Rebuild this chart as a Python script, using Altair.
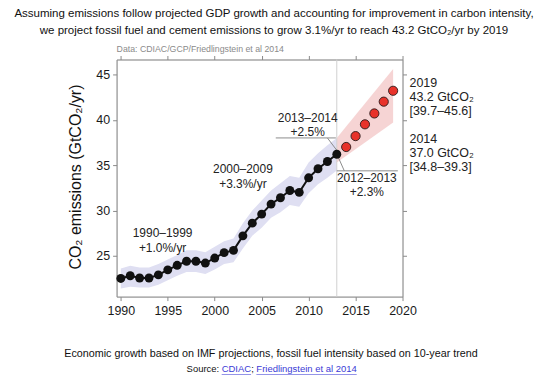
import altair as alt
import pandas as pd

# ---------------- data ----------------
years = [1990, 1991, 1992, 1993, 1994, 1995, 1996, 1997, 1998, 1999, 2000, 2001,
         2002, 2003, 2004, 2005, 2006, 2007, 2008, 2009, 2010, 2011, 2012, 2013]
emissions = [22.5, 22.8, 22.55, 22.55, 22.9, 23.45, 23.95, 24.4, 24.4, 24.2, 24.75, 25.35,
             25.6, 27.2, 28.6, 29.6, 30.7, 31.4, 32.2, 32.0, 33.6, 34.6, 35.4, 36.2]
band_low = [21.4, 21.6, 21.5, 21.5, 21.8, 22.3, 22.8, 23.2, 23.2, 23.0, 23.5, 24.1,
            24.3, 25.8, 27.2, 28.1, 29.2, 29.8, 30.6, 30.4, 31.9, 32.9, 33.6, 34.4]
band_high = [23.6, 23.9, 23.7, 23.7, 24.1, 24.6, 25.1, 25.6, 25.6, 25.4, 26.0, 26.6,
             26.9, 28.6, 30.0, 31.1, 32.2, 33.0, 33.8, 33.6, 35.3, 36.3, 37.2, 38.0]

proj_years = [2014, 2015, 2016, 2017, 2018, 2019]
proj_values = [37.0, 38.2, 39.5, 40.7, 42.0, 43.2]
proj_band_years = [2013, 2019]
proj_band_low = [35.3, 39.7]
proj_band_high = [38.0, 45.6]

x_ticks = [1990, 1995, 2000, 2005, 2010, 2015, 2020]
y_ticks = [25, 30, 35, 40, 45]

ann_text = ["2013–2014", "+2.5%", "2012–2013", "+2.3%",
            "2000–2009", "+3.3%/yr", "1990–1999", "+1.0%/yr"]
ann_x = [2009.9, 2009.9, 2016.2, 2016.2, 2003.0, 2003.0, 1994.45, 1994.45]
ann_y = [40.2, 38.7, 33.6, 32.0, 34.55, 32.9, 27.5, 25.9]

# leader lines (data coordinates)
lead_x = [2006.5, 2012.0, 2013.1, 2013.0]
lead_y = [38.0, 38.0, 36.0, 34.37]
lead_x2 = [2012.9, 2013.1, 2013.8, 2019.5]
lead_y2 = [38.0, 36.5, 34.37, 34.37]

right_labels = ["2019", "43.2 GtCO₂", "[39.7–45.6]", "2014", "37.0 GtCO₂", "[34.8–39.3]"]

FONT = "Liberation Sans"

hist = pd.DataFrame({"year": years, "value": emissions, "low": band_low, "high": band_high})
proj = pd.DataFrame({"year": proj_years, "value": proj_values})
proj_band = pd.DataFrame({"year": proj_band_years, "low": proj_band_low, "high": proj_band_high})
ann = pd.DataFrame({"x": ann_x, "y": ann_y, "t": ann_text})
leads = pd.DataFrame({"x": lead_x, "y": lead_y, "x2": lead_x2, "y2": lead_y2})

xs = alt.Scale(domain=[1989.55, 2020], nice=False, zero=False)
ys = alt.Scale(domain=[20.5, 46.65], nice=False, zero=False)

axis_common = dict(grid=False, tickSize=4, tickColor="#8a8a8a", domainColor="#8a8a8a",
                   labelFont=FONT, labelFontSize=12.5, labelColor="#1a1a1a", title=None)

x_bottom = alt.Axis(values=x_ticks, format="d", labelPadding=4, labelFlush=False,
                    labelOverlap=False, **axis_common)
x_top = alt.Axis(orient="top", values=x_ticks, labels=False, **axis_common)
y_left = alt.Axis(values=y_ticks, labelPadding=3, **axis_common)
y_right = alt.Axis(orient="right", values=y_ticks, labels=False, **axis_common)

blue_band = alt.Chart(hist).mark_area(color="#dfdff2", opacity=1).encode(
    x=alt.X("year:Q", scale=xs, axis=x_bottom),
    y=alt.Y("low:Q", scale=ys, axis=y_left),
    y2="high:Q",
)

pink_band = alt.Chart(proj_band).mark_area(color="#f6d4d4", opacity=1).encode(
    x=alt.X("year:Q", scale=xs, axis=x_top),
    y=alt.Y("low:Q", scale=ys, axis=y_right),
    y2="high:Q",
)

vrule = alt.Chart(pd.DataFrame({"year": [2013]})).mark_rule(color="#d0d0d0", strokeWidth=1).encode(
    x=alt.X("year:Q", scale=xs, axis=None),
)

lead_rules = alt.Chart(leads).mark_rule(color="#8c8c8c", strokeWidth=1).encode(
    x=alt.X("x:Q", scale=xs, axis=None),
    y=alt.Y("y:Q", scale=ys, axis=None),
    x2="x2:Q",
    y2="y2:Q",
)

line = alt.Chart(hist).mark_line(color="#111111", strokeWidth=2).encode(
    x=alt.X("year:Q", scale=xs, axis=None),
    y=alt.Y("value:Q", scale=ys, axis=None),
)

pts = alt.Chart(hist).mark_point(filled=True, color="#111111", size=80, opacity=1).encode(
    x=alt.X("year:Q", scale=xs, axis=None),
    y=alt.Y("value:Q", scale=ys, axis=None),
)

red_pts = alt.Chart(proj).mark_point(filled=True, fill="#e8322a", stroke="#2a1a1a",
                                     strokeWidth=0.9, size=85, opacity=1).encode(
    x=alt.X("year:Q", scale=xs, axis=None),
    y=alt.Y("value:Q", scale=ys, axis=None),
)

ann_txt = alt.Chart(ann).mark_text(font=FONT, fontSize=12, color="#222222",
                                   align="center", baseline="middle").encode(
    x=alt.X("x:Q", scale=xs, axis=None),
    y=alt.Y("y:Q", scale=ys, axis=None),
    text="t:N",
)

# ---------- free texts (pixel positions relative to plot origin) ----------
def label(text, x, y, size, color="#111111", align="center", font=FONT, angle=0, baseline="middle"):
    kw = dict(text=text, font=font, fontSize=size, color=color, align=align, baseline=baseline)
    if angle:
        kw["angle"] = angle
    return alt.Chart(pd.DataFrame({"a": [0]})).mark_text(**kw).encode(
        x=alt.value(x), y=alt.value(y))

LINK = "#3b3bd6"
texts = [
    label("Assuming emissions follow projected GDP growth and accounting for improvement in carbon intensity,",
          158, -46, 11.55),
    label("we project fossil fuel and cement emissions to grow 3.1%/yr to reach 43.2 GtCO₂/yr by 2019",
          158, -29, 11.55),
    label("Data: CDIAC/GCP/Friedlingstein et al 2014", 0, -11, 8.8, color="#8a8a8a", align="left"),
    label("CO₂ emissions (GtCO₂/yr)", -41, 118, 16, angle=270),
    label("Economic growth based on IMF projections, fossil fuel intensity based on 10-year trend",
          155, 296, 10.8),
    label("Source:", 103, 311, 9.5, align="right"),
    label("CDIAC", 105.5, 311, 9.5, color=LINK, align="left"),
    label(";", 135.2, 311, 9.5, align="left"),
    label("Friedlingstein et al 2014", 140.3, 311, 9.5, color=LINK, align="left"),
]

rl_y = [23.7, 37.7, 51.7, 80.3, 94.0, 107.7]
for t, yy in zip(right_labels, rl_y):
    texts.append(label(t, 294, yy, 12.5, color="#222222", align="left"))

underlines = [
    alt.Chart(pd.DataFrame({"a": [0]})).mark_rule(color=LINK, strokeWidth=0.8).encode(
        x=alt.value(105.5), x2=alt.value(135), y=alt.value(316.5)),
    alt.Chart(pd.DataFrame({"a": [0]})).mark_rule(color=LINK, strokeWidth=0.8).encode(
        x=alt.value(140.3), x2=alt.value(241), y=alt.value(316.5)),
]

chart = alt.layer(
    blue_band, pink_band, vrule, lead_rules, line, pts, red_pts, ann_txt, *texts, *underlines
).resolve_axis(x="independent", y="independent").properties(
    width=287, height=238,
    autosize=alt.AutoSizeParams(type="none"),
    padding={"left": 109, "top": 51, "right": 140, "bottom": 78},
).configure_view(stroke=None).configure(background="white")

chart.save("out.html", embed_options={"renderer": "svg", "actions": False})
